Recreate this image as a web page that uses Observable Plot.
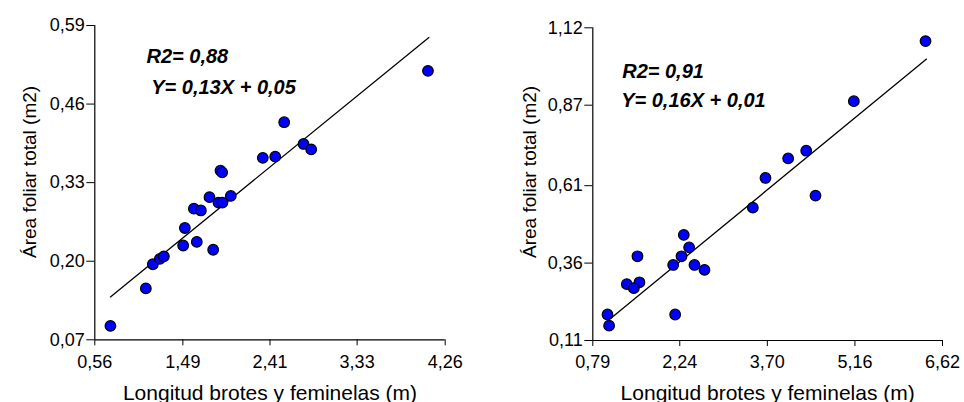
<!DOCTYPE html>
<html>
<head>
<meta charset="utf-8">
<script src="https://cdn.jsdelivr.net/npm/d3@7"></script>
<script src="https://cdn.jsdelivr.net/npm/@observablehq/plot@0.6"></script>
<style>
  html, body { margin: 0; padding: 0; background: #fff; }
  #wrap { display: flex; width: 964px; height: 402px; overflow: hidden; }
  #wrap > svg { flex: none; }
</style>
</head>
<body>
<div id="wrap"></div>
<script>
// ---------- Data ----------
// Left panel
const leftX = [0.725, 1.099, 1.173, 1.247, 1.289, 1.493, 1.511, 1.606, 1.680, 1.637, 1.771, 1.810,
               1.866, 1.908, 1.887, 1.905, 1.996, 2.334, 2.465, 2.560, 2.764, 2.845, 4.078];
const leftY = [0.093, 0.155, 0.195, 0.204, 0.208, 0.226, 0.255, 0.287, 0.284, 0.232, 0.306, 0.219,
               0.297, 0.297, 0.350, 0.347, 0.308, 0.371, 0.373, 0.430, 0.394, 0.385, 0.515];
const leftFitX = [0.725, 4.088];
const leftFitY = [0.141, 0.570];
const leftXTicks = [0.56, 1.49, 2.41, 3.33, 4.26];
const leftYTicks = [0.07, 0.20, 0.33, 0.46, 0.59];
const leftNotes = ["R2= 0,88", "Y= 0,13X + 0,05"];
const leftNoteX = [1.106, 1.156];
const leftNoteY = [0.5276, 0.477];

// Right panel
const rightX = [6.337, 5.142, 4.348, 4.047, 3.669, 4.503, 3.458, 2.307, 2.396, 2.269, 2.130, 2.485,
                2.652, 1.535, 1.568, 1.357, 1.474, 1.035, 1.062, 2.163];
const rightY = [1.077, 0.883, 0.723, 0.698, 0.635, 0.578, 0.539, 0.451, 0.411, 0.382, 0.354, 0.354,
                0.338, 0.382, 0.298, 0.292, 0.279, 0.194, 0.158, 0.194];
const rightFitX = [1.112, 6.354];
const rightFitY = [0.185, 1.019];
const rightXTicks = [0.79, 2.24, 3.70, 5.16, 6.62];
const rightYTicks = [0.11, 0.36, 0.61, 0.87, 1.12];
const rightNotes = ["R2= 0,91", "Y= 0,16X + 0,01"];
const rightNoteX = [1.280, 1.263];
const rightNoteY = [0.957, 0.864];

const xTitle = "Longitud brotes y feminelas (m)";
const yTitle = "Área foliar total (m2)";

// ---------- Drawing ----------
const fmt = d => d.toFixed(2).replace(".", ",");
const FONT = "'Liberation Sans', Arial, Helvetica, sans-serif";

function panel(cfg) {
  const pts = cfg.x.map((x, i) => ({x, y: cfg.y[i]}));
  const fit = cfg.fitX.map((x, i) => ({x, y: cfg.fitY[i]}));
  const notes = cfg.notes.map((t, i) => ({t, x: cfg.noteX[i], y: cfg.noteY[i]}));
  return Plot.plot({
    width: 482,
    height: 402,
    marginLeft: cfg.ml, marginRight: cfg.mr, marginTop: cfg.mt, marginBottom: cfg.mb,
    x: {domain: [cfg.xTicks[0], cfg.xTicks[cfg.xTicks.length - 1]]},
    y: {domain: [cfg.yTicks[0], cfg.yTicks[cfg.yTicks.length - 1]]},
    style: {fontFamily: FONT, fontSize: "18px", color: "black", background: "white", overflow: "visible"},
    marks: [
      Plot.axisY({ticks: cfg.yTicks, tickFormat: fmt, tickSize: 8, tickPadding: 2, label: null}),
      Plot.axisX({ticks: cfg.xTicks, tickFormat: fmt, tickSize: 6, tickPadding: 9, label: null}),
      Plot.ruleX([cfg.xTicks[0]], {stroke: "black", strokeWidth: 1.2}),
      Plot.ruleY([cfg.yTicks[0]], {stroke: "black", strokeWidth: 1.2}),
      Plot.line(fit, {x: "x", y: "y", stroke: "black", strokeWidth: 1.3}),
      Plot.dot(pts, {x: "x", y: "y", r: 5.3, fill: "#0000ff", stroke: "black", strokeWidth: 1.2}),
      Plot.text(notes, {x: "x", y: "y", text: "t", textAnchor: "start", lineAnchor: "bottom",
                        fontSize: 20, fontWeight: "bold", fontStyle: "italic", fill: "black"}),
      Plot.text([xTitle], {text: d => d, frameAnchor: "bottom", dy: cfg.xtDy, lineAnchor: "bottom",
                           textAnchor: "middle", fontSize: 21, fill: "black"}),
      Plot.text([yTitle], {text: d => d, frameAnchor: "left", rotate: -90, dx: cfg.ytDx, dy: cfg.ytDy,
                           textAnchor: "middle", lineAnchor: "bottom", fontSize: 19, fill: "black"})
    ]
  });
}

const wrap = document.getElementById("wrap");
wrap.appendChild(panel({
  x: leftX, y: leftY, fitX: leftFitX, fitY: leftFitY,
  xTicks: leftXTicks, yTicks: leftYTicks,
  notes: leftNotes, noteX: leftNoteX, noteY: leftNoteY,
  ml: 94.3, mr: 37.3, mt: 25, mb: 62.7,
  xtDy: 60, ytDx: -59.3, ytDy: -10.7
}));
wrap.appendChild(panel({
  x: rightX, y: rightY, fitX: rightFitX, fitY: rightFitY,
  xTicks: rightXTicks, yTicks: rightYTicks,
  notes: rightNotes, noteX: rightNoteX, noteY: rightNoteY,
  ml: 110.3, mr: 22, mt: 27.3, mb: 62,
  xtDy: 59.5, ytDx: -57.3, ytDy: -12.2
}));
</script>
</body>
</html>
